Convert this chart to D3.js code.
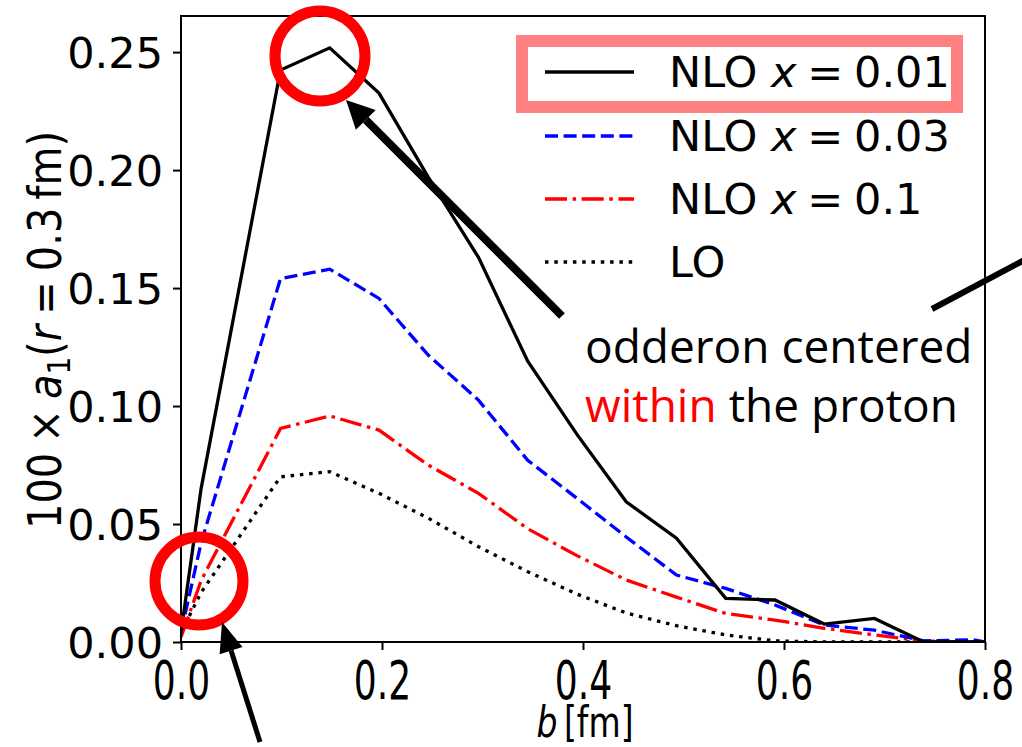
<!DOCTYPE html>
<html>
<head>
<meta charset="utf-8">
<script src="https://cdn.jsdelivr.net/npm/d3@7"></script>
<style>
  body { margin: 0; background: #fff; }
  svg { display: block; }
  text { font-family: "DejaVu Sans", sans-serif; fill: #000; }
</style>
</head>
<body>
<svg id="chart" width="1022" height="747"></svg>
<script>
// impact parameter grid (fm)
var bValues = [0, 0.02, 0.099, 0.148, 0.197, 0.246, 0.296, 0.345, 0.394, 0.443, 0.493, 0.542, 0.591, 0.640, 0.690, 0.739, 0.788, 0.8];
// 100 x a1(r = 0.3 fm) for each curve
var nlo001 = [0.004, 0.065, 0.2424, 0.2518, 0.2326, 0.197, 0.163, 0.119, 0.088, 0.0594, 0.044, 0.0185, 0.0178, 0.0076, 0.010, 0.0, 0.0, 0.0];
var nlo003 = [0.004, 0.042, 0.154, 0.158, 0.1456, 0.1216, 0.1025, 0.077, 0.0609, 0.0445, 0.0284, 0.0227, 0.0157, 0.0072, 0.005, 0.0005, 0.0009, 0.0];
var nlo01  = [0.002, 0.026, 0.0905, 0.0958, 0.0898, 0.075, 0.063, 0.048, 0.0366, 0.0263, 0.019, 0.0121, 0.0093, 0.0058, 0.003, 0.0004, 0.0, 0.0];
var lo     = [0.004, 0.021, 0.070, 0.0722, 0.063, 0.0525, 0.0404, 0.0298, 0.0203, 0.0123, 0.0069, 0.003, 0.0005, 0.0, 0.0, 0.0, 0.0, 0.0];

var xTicks = [0, 0.2, 0.4, 0.6, 0.8];
var yTicks = [0, 0.05, 0.10, 0.15, 0.20, 0.25];
var legendValues = ["0.01", "0.03", "0.1"];

var svg = d3.select("#chart");
var plotL = 181, plotR = 985, plotT = 16, plotB = 642;

var x = d3.scaleLinear().domain([0, 0.8]).range([plotL, plotR]);
var y = d3.scaleLinear().domain([0, 0.2653]).range([plotB, plotT]);

svg.append("clipPath").attr("id", "plotClip")
  .append("rect").attr("x", plotL).attr("y", plotT)
  .attr("width", plotR - plotL).attr("height", plotB - plotT);

//the four curves, styled like matplotlib '-', '--', '-.', ':'
var series = [
  {vals: nlo001, color: "#000000", dash: null},
  {vals: nlo003, color: "#0000ff", dash: "13,5.6"},
  {vals: nlo01,  color: "#ff0000", dash: "22,5.6,3.5,5.6"},
  {vals: lo,     color: "#000000", dash: "3.5,5.8"}
];

var line = d3.line()
  .x(function(d, i) { return x(bValues[i]); })
  .y(function(d) { return y(d); });

var plot = svg.append("g").attr("clip-path", "url(#plotClip)");
series.slice().reverse().forEach(function(s) {
  plot.append("path")
    .attr("d", line(s.vals))
    .attr("fill", "none")
    .attr("stroke", s.color)
    .attr("stroke-width", 3.3)
    .attr("stroke-dasharray", s.dash);
});

//axes
var xAxis = svg.append("g").attr("transform", "translate(0," + plotB + ")")
  .call(d3.axisBottom(x).tickValues(xTicks).tickSize(8).tickFormat(d3.format(".1f")));
var yAxis = svg.append("g").attr("transform", "translate(" + plotL + ",0)")
  .call(d3.axisLeft(y).tickValues(yTicks).tickSize(8).tickFormat(d3.format(".2f")));

[xAxis, yAxis].forEach(function(a) {
  a.select(".domain").remove();
  a.selectAll(".tick line").attr("stroke", "#000").attr("stroke-width", 2);
  a.selectAll(".tick text").attr("font-family", "DejaVu Sans").attr("fill", "#000");
});
xAxis.selectAll(".tick text").attr("font-size", 43).attr("y", 0).attr("dy", 0)
  .attr("transform", "translate(0,57) scale(0.84,1.24)");
yAxis.selectAll(".tick text").attr("font-size", 43).attr("x", -18).attr("dy", "0.36em");

//frame
svg.append("rect").attr("x", plotL).attr("y", plotT)
  .attr("width", plotR - plotL).attr("height", plotB - plotT)
  .attr("fill", "none").attr("stroke", "#000").attr("stroke-width", 2);

//axis labels
var xl = svg.append("text")
  .attr("transform", "translate(585,737) scale(0.87,1.1)")
  .attr("text-anchor", "middle").attr("font-size", 38);
xl.append("tspan").attr("font-style", "italic").text("b");
xl.append("tspan").text("\u2009[fm]");

var yl = svg.append("text")
  .attr("transform", "translate(61,330) rotate(-90) scale(0.87,1)")
  .attr("text-anchor", "middle").attr("font-size", 46);
yl.append("tspan").text("100\u2005\u00d7\u2005");
yl.append("tspan").attr("font-style", "italic").text("a");
yl.append("tspan").attr("font-size", 32).attr("dy", 9).text("1");
yl.append("tspan").attr("dy", -9).text("(");
yl.append("tspan").attr("font-style", "italic").text("r");
yl.append("tspan").text("\u2005=\u20050.3\u2009fm)");

//legend
var legendY = [72, 136, 199, 262];
series.forEach(function(s, i) {
  svg.append("line")
    .attr("x1", 545).attr("x2", 634)
    .attr("y1", legendY[i]).attr("y2", legendY[i])
    .attr("stroke", s.color).attr("stroke-width", 3.3)
    .attr("stroke-dasharray", s.dash);
  var t = svg.append("text").attr("x", 669).attr("y", legendY[i])
    .attr("dy", "0.36em").attr("font-size", 43);
  if (i < 3) {
    t.append("tspan").text("NLO ");
    t.append("tspan").attr("font-style", "italic").text("x");
    t.append("tspan").text("\u2005=\u2005" + legendValues[i]);
  } else {
    t.text("LO");
  }
});

svg.append("rect").attr("x", 522).attr("y", 41).attr("width", 435).attr("height", 66)
  .attr("fill", "none").attr("stroke", "#ff8080").attr("stroke-width", 12);

//circles
svg.append("circle").attr("cx", 320).attr("cy", 56).attr("r", 45)
  .attr("fill", "none").attr("stroke", "#ff0000").attr("stroke-width", 11);
svg.append("circle").attr("cx", 199).attr("cy", 581).attr("r", 44)
  .attr("fill", "none").attr("stroke", "#ff0000").attr("stroke-width", 11);

//arrows
function arrow(x1, y1, x2, y2, w, head, headW) {
  var ang = Math.atan2(y2 - y1, x2 - x1);
  var bx = x2 - head * Math.cos(ang), by = y2 - head * Math.sin(ang);
  svg.append("line").attr("x1", x1).attr("y1", y1).attr("x2", bx).attr("y2", by)
    .attr("stroke", "#000").attr("stroke-width", w);
  var px = -Math.sin(ang) * headW / 2, py = Math.cos(ang) * headW / 2;
  svg.append("path")
    .attr("d", "M" + x2 + "," + y2 + "L" + (bx + px) + "," + (by + py) + "L" + (bx - px) + "," + (by - py) + "Z")
    .attr("fill", "#000");
}
arrow(562, 316, 346, 100, 8, 28, 28);
arrow(260, 742, 222, 622, 5, 30, 24);

svg.append("line").attr("x1", 932).attr("y1", 309).attr("x2", 1030).attr("y2", 257)
  .attr("stroke", "#000").attr("stroke-width", 6);

//annotation
var ann = svg.append("g").attr("font-size", 46);
ann.append("text").attr("x", 585).attr("y", 363).style("font-family", "Open Sans")
  .text("odderon centered");
var a2 = ann.append("text").attr("x", 585).attr("y", 422).style("font-family", "Open Sans");
a2.append("tspan").style("fill", "#ff0000").text("within");
a2.append("tspan").text(" the proton");
</script>
</body>
</html>
